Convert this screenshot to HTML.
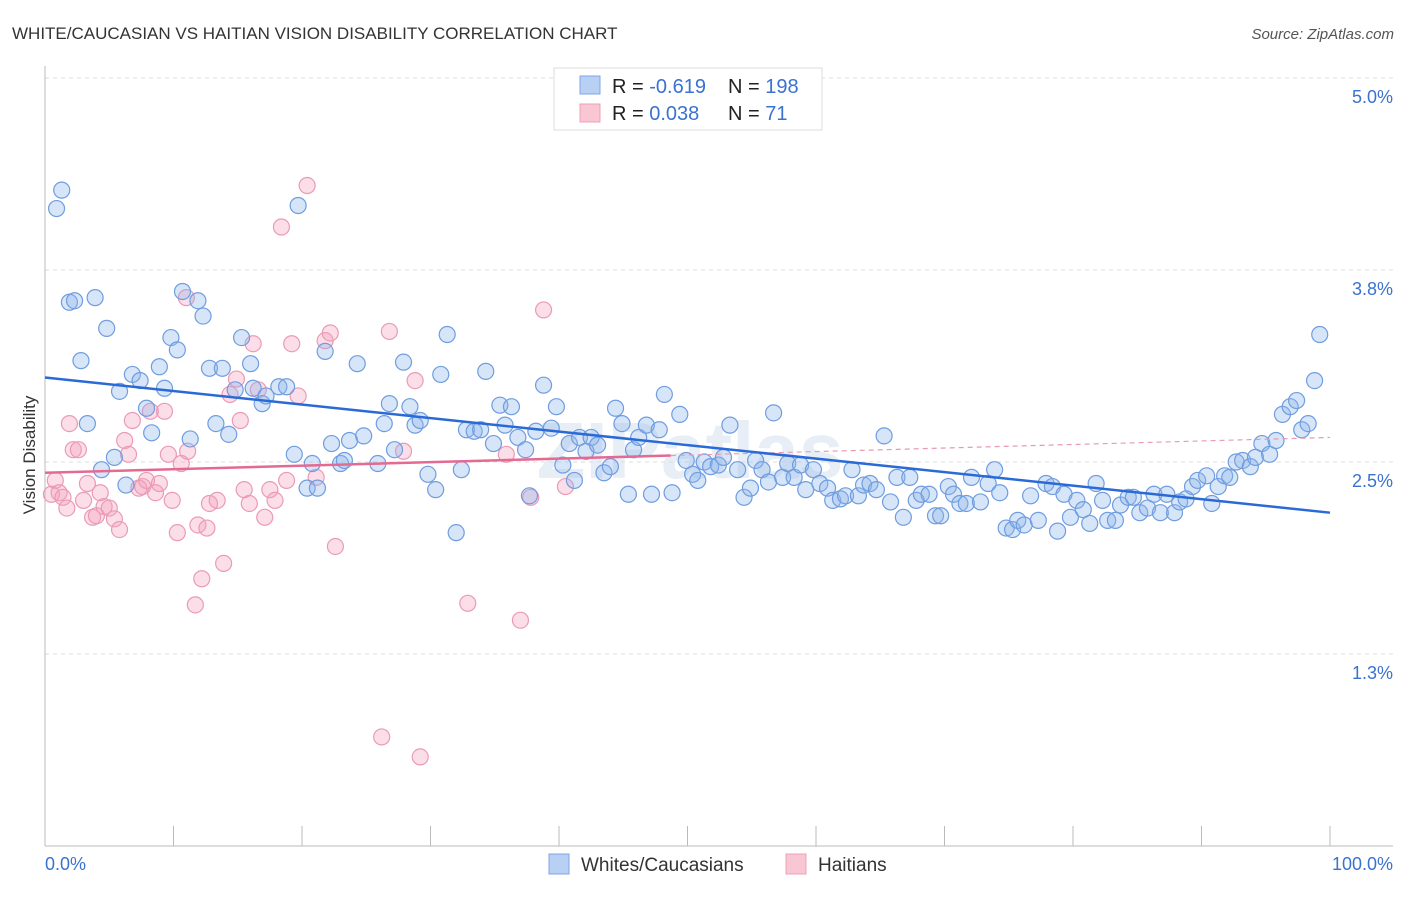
<!DOCTYPE html>
<html><head><meta charset="utf-8"><style>
body{margin:0;background:#fff;font-family:"Liberation Sans",sans-serif;}
svg text{font-family:"Liberation Sans",sans-serif;}
</style></head><body>
<svg id="chart" width="1406" height="892" xmlns="http://www.w3.org/2000/svg">
<text x="12" y="39" font-size="17" fill="#333">WHITE/CAUCASIAN VS HAITIAN VISION DISABILITY CORRELATION CHART</text>
<text x="1394" y="39" font-size="15" fill="#555" text-anchor="end" font-style="italic">Source: ZipAtlas.com</text>
<text x="35" y="455" font-size="17" fill="#333" text-anchor="middle" transform="rotate(-90 35 455)">Vision Disability</text>
<text x="690" y="478" font-size="80" fill="#e8eef6" text-anchor="middle" font-weight="bold">ZIPatlas</text>
<g id="grid"></g><g id="marks"></g>
<g>
<rect x="554" y="68" width="268" height="62" fill="#fff" stroke="#ddd"/>
<rect x="580" y="76" width="20" height="18" fill="#b8d0f4" stroke="#7fa6e4"/>
<rect x="580" y="104" width="20" height="18" fill="#f9c6d4" stroke="#eca0b8"/>
<text x="612" y="93" font-size="20" fill="#222">R = <tspan fill="#3a72d0">-0.619</tspan></text>
<text x="728" y="93" font-size="20" fill="#222">N = <tspan fill="#3a72d0">198</tspan></text>
<text x="612" y="120" font-size="20" fill="#222">R = <tspan fill="#3a72d0"> 0.038</tspan></text>
<text x="728" y="120" font-size="20" fill="#222">N = <tspan fill="#3a72d0">  71</tspan></text>
</g>
<g>
<rect x="549" y="854" width="20" height="20" fill="#b8d0f4" stroke="#7fa6e4"/>
<text x="581" y="871" font-size="19" fill="#333">Whites/Caucasians</text>
<rect x="786" y="854" width="20" height="20" fill="#f9c6d4" stroke="#eca0b8"/>
<text x="818" y="871" font-size="19" fill="#333">Haitians</text>
</g>
</svg>
<script>
const yTicks=[1.25,2.5,3.75,5.0];
const yTickLabels=["1.3%","2.5%","3.8%","5.0%"];
const xTickLabels=["0.0%","100.0%"];
const whiteX=[1.3,0.9,1.9,2.3,3.9,4.8,2.8,3.3,4.4,5.4,6.3,5.8,6.8,7.4,7.9,8.3,8.9,9.3,9.8,10.3,10.7,11.3,11.9,12.3,12.8,13.3,13.8,14.3,14.8,15.3,16.0,16.2,16.9,17.2,18.2,18.8,19.4,19.7,20.4,20.8,21.2,21.8,22.3,23.0,23.3,23.7,24.3,24.8,25.9,26.4,26.8,27.2,27.9,28.4,28.8,29.2,29.8,30.4,30.8,31.3,32.0,32.4,32.8,33.4,33.9,34.3,34.9,35.4,35.8,36.3,36.8,37.4,37.7,38.2,38.8,39.4,39.8,40.3,40.8,41.2,41.6,42.1,42.5,43.0,43.5,44.0,44.4,44.9,45.4,45.8,46.2,46.8,47.2,47.8,48.2,48.8,49.4,49.9,50.4,50.8,51.3,51.8,52.4,52.8,53.3,53.9,54.4,54.9,55.3,55.8,56.3,56.7,57.4,57.8,58.3,58.8,59.2,59.8,60.3,60.9,61.3,61.9,62.3,62.8,63.3,63.7,64.2,64.7,65.3,65.8,66.3,66.8,67.3,67.8,68.2,68.8,69.3,69.7,70.3,70.7,71.2,71.7,72.1,72.8,73.4,73.9,74.3,74.8,75.3,75.7,76.2,76.7,77.3,77.9,78.4,78.8,79.3,79.8,80.3,80.8,81.3,81.8,82.3,82.7,83.3,83.7,84.3,84.7,85.2,85.8,86.3,86.8,87.3,87.9,88.3,88.8,89.3,89.7,90.4,90.8,91.3,91.8,92.2,92.7,93.2,93.8,94.2,94.7,95.3,95.8,96.3,96.9,97.4,97.8,98.3,98.8,99.2];
const whiteY=[4.27,4.15,3.54,3.55,3.57,3.37,3.16,2.75,2.45,2.53,2.35,2.96,3.07,3.03,2.85,2.69,3.12,2.98,3.31,3.23,3.61,2.65,3.55,3.45,3.11,2.75,3.11,2.68,2.97,3.31,3.14,2.98,2.88,2.93,2.99,2.99,2.55,4.17,2.33,2.49,2.33,3.22,2.62,2.49,2.51,2.64,3.14,2.67,2.49,2.75,2.88,2.58,3.15,2.86,2.74,2.77,2.42,2.32,3.07,3.33,2.04,2.45,2.71,2.70,2.71,3.09,2.62,2.87,2.74,2.86,2.66,2.58,2.28,2.70,3.00,2.72,2.86,2.48,2.62,2.38,2.66,2.57,2.66,2.61,2.43,2.47,2.85,2.75,2.29,2.58,2.66,2.74,2.29,2.71,2.94,2.30,2.81,2.51,2.42,2.38,2.50,2.47,2.48,2.53,2.74,2.45,2.27,2.33,2.51,2.45,2.37,2.82,2.40,2.49,2.40,2.48,2.32,2.45,2.36,2.33,2.25,2.26,2.28,2.45,2.28,2.35,2.36,2.32,2.67,2.24,2.40,2.14,2.40,2.25,2.29,2.29,2.15,2.15,2.34,2.29,2.23,2.23,2.40,2.24,2.36,2.45,2.30,2.07,2.06,2.12,2.09,2.28,2.12,2.36,2.34,2.05,2.29,2.14,2.25,2.19,2.10,2.36,2.25,2.12,2.12,2.22,2.27,2.27,2.17,2.20,2.29,2.17,2.29,2.17,2.24,2.26,2.34,2.38,2.41,2.23,2.34,2.41,2.40,2.50,2.51,2.47,2.53,2.62,2.55,2.64,2.81,2.86,2.90,2.71,2.75,3.03,3.33];
const haitianX=[0.8,0.5,1.1,1.4,1.7,1.9,2.2,2.6,3.0,3.3,3.7,4.0,4.3,4.6,5.0,5.4,5.8,6.2,6.5,6.8,7.3,7.6,7.9,8.2,8.6,8.9,9.3,9.6,9.9,10.3,10.6,11.0,11.1,11.7,11.9,12.2,12.6,12.8,13.4,13.9,14.4,14.9,15.2,15.5,15.9,16.2,16.6,17.1,17.5,17.9,18.4,18.8,19.2,19.7,20.4,21.1,21.8,22.2,22.6,26.2,26.8,27.9,28.8,29.2,32.9,35.9,37.0,37.8,38.8,40.5];
const haitianY=[2.38,2.29,2.30,2.27,2.20,2.75,2.58,2.58,2.25,2.36,2.14,2.15,2.30,2.21,2.20,2.13,2.06,2.64,2.55,2.77,2.33,2.34,2.38,2.83,2.30,2.36,2.83,2.55,2.25,2.04,2.49,3.57,2.57,1.57,2.09,1.74,2.07,2.23,2.25,1.84,2.94,3.04,2.77,2.32,2.23,3.27,2.97,2.14,2.32,2.25,4.03,2.38,3.27,2.93,4.30,2.40,3.29,3.34,1.95,0.71,3.35,2.57,3.03,0.58,1.58,2.55,1.47,2.27,3.49,2.34];
const whiteTrend=[3.05,2.17];
const haitianTrend=[2.43,2.66];
const haitianSolidEnd=48.7;

const NS="http://www.w3.org/2000/svg";
const X0=45,X1=1330,YB=846,YT=78;
const sx=v=>X0+(X1-X0)*v/100;
const sy=v=>YB-(YB-YT)*v/5;
function mk(tag,attrs,parent){const e=document.createElementNS(NS,tag);for(const k in attrs)e.setAttribute(k,attrs[k]);parent.appendChild(e);return e;}
const grid=document.getElementById('grid'),marks=document.getElementById('marks');
yTicks.forEach((t,i)=>{
 const l=mk('line',{x1:X0,x2:1393,y1:sy(t),y2:sy(t),stroke:'#ddd','stroke-dasharray':'4,4'},grid);
 
 
 const tx=mk('text',{x:1393,y:sy(t)+25,'font-size':18,fill:'#3a72d0','text-anchor':'end'},grid);
 tx.textContent=yTickLabels[i];
 
 
});
const ax=mk('line',{x1:X0,x2:1393,y1:YB,y2:YB,stroke:'#bbb'},grid);


const ay=mk('line',{x1:X0,x2:X0,y1:66,y2:YB,stroke:'#bbb'},grid);


for(let i=0;i<=10;i++){const t=mk('line',{x1:sx(i*10),x2:sx(i*10),y1:826,y2:YB,stroke:'#bbb'},grid);
 
 }
const xl0=mk('text',{x:45,y:870,'font-size':18,fill:'#3a72d0'},grid);xl0.textContent=xTickLabels[0];


const xl1=mk('text',{x:1393,y:870,'font-size':18,fill:'#3a72d0','text-anchor':'end'},grid);xl1.textContent=xTickLabels[1];


haitianX.forEach((x,i)=>{const c=mk('circle',{cx:sx(x),cy:sy(haitianY[i]),r:8,fill:'rgba(244,160,188,0.35)',stroke:'#eb9ab5','stroke-width':1.2},marks);
 
 });
whiteX.forEach((x,i)=>{const c=mk('circle',{cx:sx(x),cy:sy(whiteY[i]),r:8,fill:'rgba(140,180,236,0.35)',stroke:'#6f9de0','stroke-width':1.2},marks);
 
 });
const hy=x=>haitianTrend[0]+(haitianTrend[1]-haitianTrend[0])*x/100;
const hd=mk('line',{x1:sx(haitianSolidEnd),y1:sy(hy(haitianSolidEnd)),x2:sx(100),y2:sy(hy(100)),stroke:'#e89ab2','stroke-width':1.2,'stroke-dasharray':'5,4'},marks);


const hs=mk('line',{x1:sx(0),y1:sy(hy(0)),x2:sx(haitianSolidEnd),y2:sy(hy(haitianSolidEnd)),stroke:'#e46a92','stroke-width':2.5},marks);


const wl=mk('line',{x1:sx(0),y1:sy(whiteTrend[0]),x2:sx(100),y2:sy(whiteTrend[1]),stroke:'#2a6ad6','stroke-width':2.5},marks);


</script>
</body></html>
